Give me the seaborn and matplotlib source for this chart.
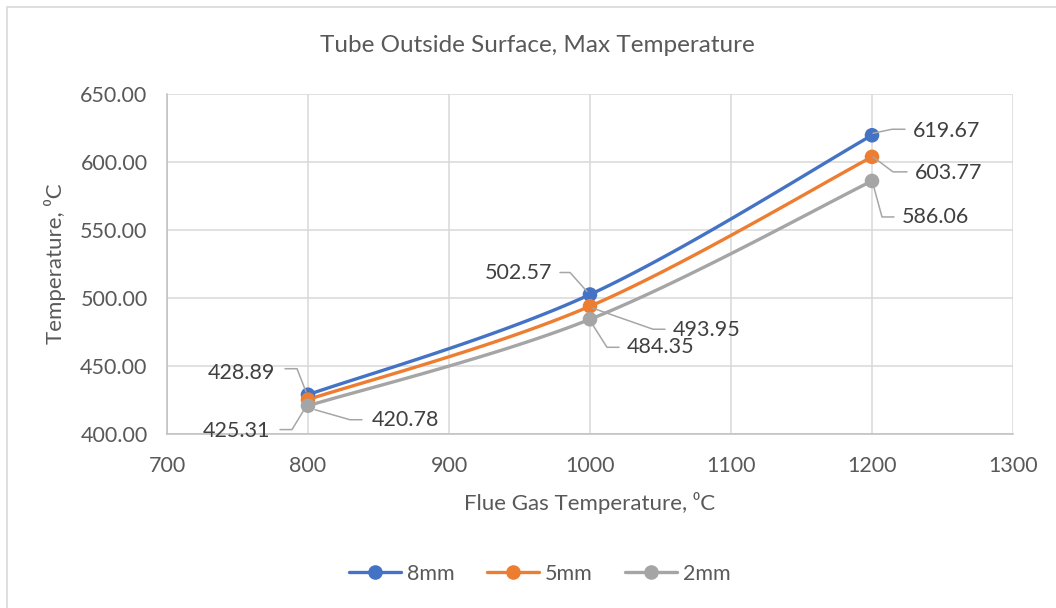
import numpy as np
import pandas as pd
import matplotlib
matplotlib.use("Agg")
import matplotlib.pyplot as plt
from matplotlib.lines import Line2D
from matplotlib.patches import Rectangle
import seaborn as sns

# ---------------- data ----------------
flue_gas = [800, 1000, 1200]
series_names = ["8mm", "5mm", "2mm"]
t_8mm = [428.89, 502.57, 619.67]
t_5mm = [425.31, 493.95, 603.77]
t_2mm = [420.78, 484.35, 586.06]
colors = ["#4472C4", "#ED7D31", "#A5A5A5"]
x_ticks = [700, 800, 900, 1000, 1100, 1200, 1300]
y_ticks = [400, 450, 500, 550, 600, 650]

title = "Tube Outside Surface, Max Temperature"
x_label = "Flue Gas Temperature, \u2070C"
y_label = "Temperature, \u2070C"

# ---------------- style ----------------
sns.set_style("white")
plt.rcParams["font.family"] = ["Lato", "DejaVu Sans"]

W, H = 1056, 608
fig = plt.figure(figsize=(W / 100, H / 100), dpi=100)
ax = fig.add_axes([167 / W, 1 - 434 / H, (1013 - 167) / W, (434 - 94) / H])

df = pd.DataFrame({
    "x": flue_gas * 3,
    "y": t_8mm + t_5mm + t_2mm,
    "series": [s for s in series_names for _ in flue_gas],
})


def smooth(xs, ys, n=60):
    """Excel-like smoothed line (Catmull-Rom through the points, as Bezier)."""
    P = np.column_stack([xs, ys]).astype(float)
    Pe = np.vstack([P[0], P, P[-1]])
    out = []
    for i in range(len(P) - 1):
        p0, p1, p2, p3 = Pe[i], Pe[i + 1], Pe[i + 2], Pe[i + 3]
        c1 = p1 + (p2 - p0) / 6
        c2 = p2 - (p3 - p1) / 6
        t = np.linspace(0, 1, n)[:, None]
        seg = ((1 - t) ** 3) * p1 + 3 * ((1 - t) ** 2) * t * c1 + 3 * (1 - t) * t ** 2 * c2 + t ** 3 * p2
        out.append(seg if i == 0 else seg[1:])
    s = np.vstack(out)
    return s[:, 0], s[:, 1]


for name, col in zip(series_names, colors):
    sub = df[df.series == name]
    sx, sy = smooth(sub.x.values, sub.y.values)
    ax.plot(sx, sy, color=col, lw=2.4, solid_capstyle="round", zorder=3)

sns.scatterplot(data=df, x="x", y="y", hue="series", palette=colors,
                s=110, edgecolor="none", legend=False, ax=ax, zorder=4)

ax.set_xlim(700, 1300)
ax.set_ylim(400, 650)
ax.set_xticks(x_ticks)
ax.set_yticks(y_ticks)
ax.set_xticklabels([f"{v}" for v in x_ticks])
ax.set_yticklabels([f"{v:.2f}" for v in y_ticks])
ax.grid(True, color="#D9D9D9", lw=1.1)
ax.set_axisbelow(True)
for side in ["top", "right"]:
    ax.spines[side].set_visible(False)
for side in ["left", "bottom"]:
    ax.spines[side].set_color("#BFBFBF")
    ax.spines[side].set_linewidth(1.1)
ax.tick_params(axis="y", length=0, labelsize=15.5, colors="#595959", pad=14)
ax.tick_params(axis="x", length=0, labelsize=15.5, colors="#595959", pad=16)
ax.set_xlabel("")
ax.set_ylabel("")

fig.text(537 / W, 1 - 45 / H, title, ha="center", va="center", fontsize=17.5, color="#595959")
fig.text(590 / W, 1 - 503 / H, x_label, ha="center", va="center", fontsize=16, color="#595959")
fig.text(55 / W, 1 - 264 / H, y_label, ha="center", va="center", rotation=90, fontsize=16, color="#595959")

# ---------------- data labels with leader lines ----------------
# per label: (text dx, text dy, ha, leader polyline) offsets in pixels (image coords: +dy down)
label_layout = {
    ("8mm", 0): (-33, -22, "right", [(-23, -26), (-11, -26), (-2, -3)]),
    ("5mm", 0): (-38, 31, "right", [(-28, 30), (-16, 30), (-2, 7)]),
    ("2mm", 0): (64, 14, "left", [(7, 4), (42, 14), (54, 14)]),
    ("8mm", 1): (-38, -22, "right", [(-30, -22), (-20, -22), (-3, -3)]),
    ("5mm", 1): (83, 24, "left", [(3, 2), (63, 23), (75, 23)]),
    ("2mm", 1): (37, 28, "left", [(3, 6), (17, 28), (29, 28)]),
    ("8mm", 2): (41, -4, "left", [(1, -2), (20, -6), (33, -6)]),
    ("5mm", 2): (43, 16, "left", [(1, 0), (21, 15), (35, 15)]),
    ("2mm", 2): (30, 36, "left", [(1, 3), (10, 36), (22, 36)]),
}

inv = fig.transFigure.inverted()
values = {"8mm": t_8mm, "5mm": t_5mm, "2mm": t_2mm}
for name in series_names:
    for i, xv in enumerate(flue_gas):
        yv = values[name][i]
        px, py = ax.transData.transform((xv, yv))
        dx, dy, ha, leader = label_layout[(name, i)]
        pts = [inv.transform((px + a, py - b)) for a, b in leader]
        fig.add_artist(Line2D([p[0] for p in pts], [p[1] for p in pts],
                              color="#A6A6A6", lw=1.1, zorder=5))
        tx, ty = inv.transform((px + dx, py - dy))
        fig.text(tx, ty, f"{yv:.2f}", ha=ha, va="center", fontsize=15.5, color="#404040", zorder=6)

# ---------------- legend ----------------
handles = [Line2D([0], [0], color=c, lw=2.4, marker="o", markersize=10.5, markeredgewidth=0)
           for c in colors]
fig.legend(handles, series_names, loc="center", bbox_to_anchor=(540 / W, 1 - 574 / H),
           ncol=3, frameon=False, fontsize=15.5, handlelength=2.4, handletextpad=0.3,
           columnspacing=1.5, labelcolor="#595959")

# chart border
fig.add_artist(Rectangle((7 / W, -0.1), 1.2, 1 - 7 / H + 0.1, transform=fig.transFigure,
                         fill=False, edgecolor="#D9D9D9", lw=1.2))

fig.savefig("out.png", dpi=100, facecolor="white")
